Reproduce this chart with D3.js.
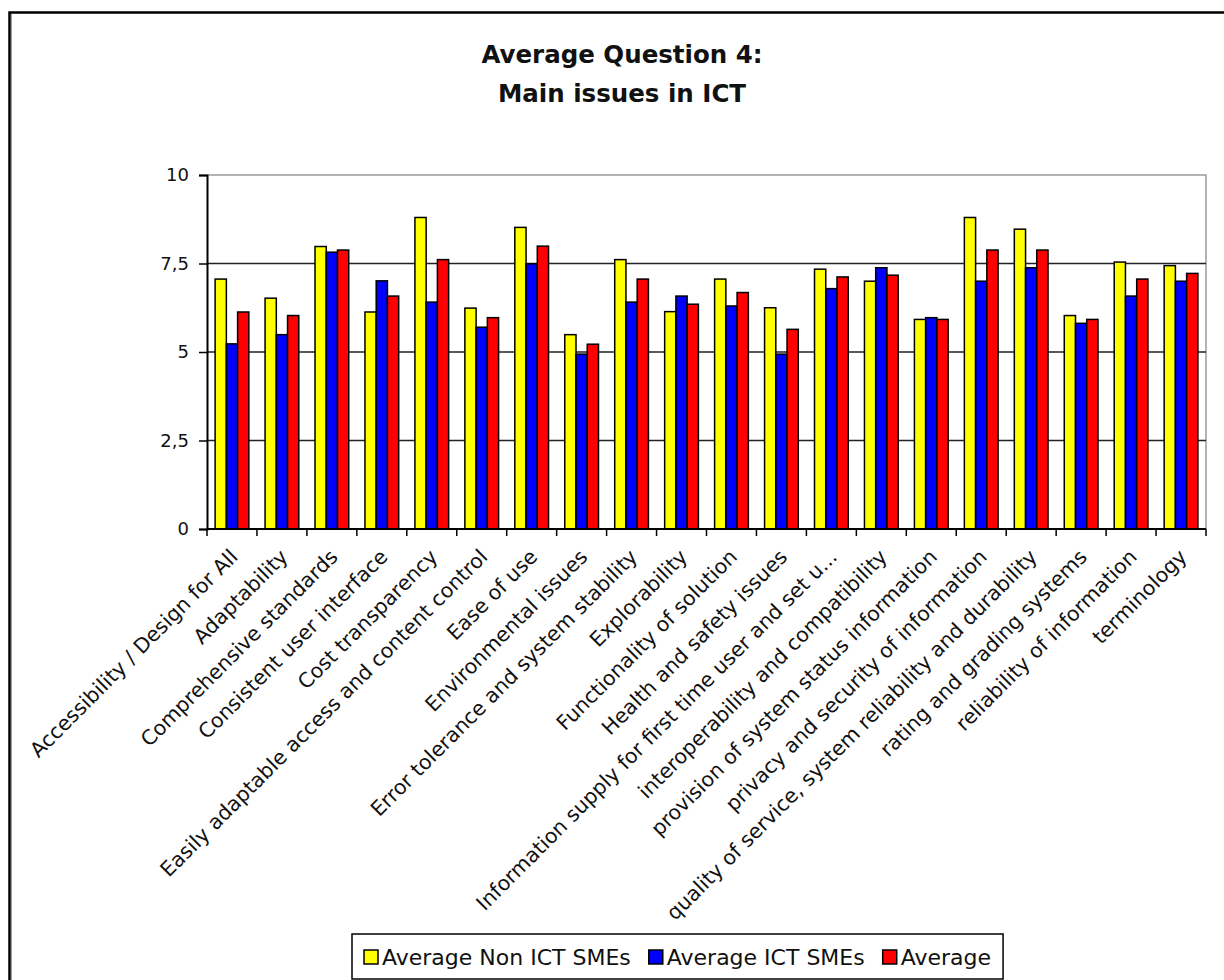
<!DOCTYPE html>
<html>
<head>
<meta charset="utf-8">
<script src="https://cdn.jsdelivr.net/npm/d3@7"></script>
<style>
  html, body { margin: 0; padding: 0; background: #fff; }
  svg { display: block; }
</style>
</head>
<body>
<svg id="chart" width="1224" height="980"></svg>
<script>
// Categories (issues) along the x axis
const categories = [
  "Accessibility / Design for All",
  "Adaptability",
  "Comprehensive standards",
  "Consistent user interface",
  "Cost transparency",
  "Easily adaptable access and content control",
  "Ease of use",
  "Environmental issues",
  "Error tolerance and system stability",
  "Explorability",
  "Functionality of solution",
  "Health and safety issues",
  "Information supply for first time user and set u...",
  "interoperability and compatibility",
  "provision of system status information",
  "privacy and security of information",
  "quality of service, system reliability and durability",
  "rating and grading systems",
  "reliability of information",
  "terminology"
];

// Series values
const nonIctSMEs = [7.06, 6.52, 7.98, 6.13, 8.80, 6.24, 8.52, 5.49, 7.61, 6.14, 7.06, 6.25, 7.34, 7.00, 5.92, 8.80, 8.47, 6.03, 7.54, 7.44];
const ictSMEs    = [5.23, 5.49, 7.82, 7.01, 6.41, 5.70, 7.49, 4.94, 6.41, 6.58, 6.30, 4.94, 6.79, 7.38, 5.97, 7.00, 7.38, 5.81, 6.58, 7.00];
const average    = [6.13, 6.03, 7.88, 6.58, 7.61, 5.97, 7.99, 5.22, 7.06, 6.35, 6.68, 5.64, 7.12, 7.17, 5.92, 7.88, 7.88, 5.92, 7.06, 7.22];

const seriesNames  = ["Average Non ICT SMEs", "Average ICT SMEs", "Average"];
const seriesColors = ["#ffff00", "#0000ff", "#ff0000"];
const yTicks = [0, 2.5, 5, 7.5, 10];
const titleLines = ["Average Question 4:", "Main issues in ICT"];

const seriesValues = [nonIctSMEs, ictSMEs, average];

const svg = d3.select("#chart");
const plot = { left: 207, right: 1206, top: 175, bottom: 529 };
const fontFamily = "'DejaVu Sans', Verdana, sans-serif";

// Outer chart frame (only top and left edges fall inside the page)
svg.append("path")
  .attr("d", "M9.5,980 V12.5 H1224")
  .attr("fill", "none").attr("stroke", "#000").attr("stroke-width", 2.5);
svg.append("line")
  .attr("x1", 11.5).attr("x2", 11.5).attr("y1", 14).attr("y2", 980)
  .attr("stroke", "#9a9a9a").attr("stroke-width", 1);

// Title
svg.append("g").selectAll("text").data(titleLines).join("text")
  .attr("x", 622)
  .attr("y", (d, i) => 63 + i * 39)
  .attr("text-anchor", "middle")
  .style("font-family", fontFamily)
  .style("font-weight", "bold")
  .style("font-size", "24.5px")
  .attr("fill", "#111")
  .text(d => d);

// Scales
const x0 = d3.scaleBand().domain(categories).range([plot.left, plot.right]).paddingInner(0).paddingOuter(0);
const barW = x0.bandwidth() * 0.225;
const groupOffset = (x0.bandwidth() - 3 * barW) / 2;
const x1 = d3.scaleBand().domain(d3.range(seriesNames.length))
  .range([groupOffset, groupOffset + 3 * barW]).padding(0);
const y = d3.scaleLinear().domain([0, 10]).range([plot.bottom, plot.top]);

// Plot-area border (top and right edges, grey)
svg.append("path")
  .attr("d", `M${plot.left},${y(10)} H${plot.right} V${plot.bottom}`)
  .attr("fill", "none").attr("stroke", "#9a9a9a").attr("stroke-width", 1.5);

// Horizontal gridlines
svg.append("g").selectAll("line").data(yTicks.filter(t => t > 0 && t < 10)).join("line")
  .attr("x1", plot.left).attr("x2", plot.right)
  .attr("y1", d => y(d)).attr("y2", d => y(d))
  .attr("stroke", "#222").attr("stroke-width", 1.5);

// Bars
const groups = svg.append("g").selectAll("g").data(categories).join("g")
  .attr("transform", d => `translate(${x0(d)},0)`);
groups.selectAll("rect")
  .data((d, ci) => seriesValues.map((vals, si) => ({ si, v: vals[ci] })))
  .join("rect")
  .attr("x", d => x1(d.si))
  .attr("width", x1.bandwidth())
  .attr("y", d => y(d.v))
  .attr("height", d => y(0) - y(d.v))
  .attr("fill", d => seriesColors[d.si])
  .attr("stroke", "#000").attr("stroke-width", 1.5);

// Y axis
const yAxis = d3.axisLeft(y).tickValues(yTicks).tickSize(8).tickPadding(10)
  .tickFormat(d => String(d).replace(".", ","));
const yg = svg.append("g").attr("transform", `translate(${plot.left},0)`).call(yAxis);
yg.select(".domain").attr("stroke", "#000").attr("stroke-width", 2);
yg.selectAll(".tick line").attr("stroke", "#000").attr("stroke-width", 1.5);
yg.selectAll(".tick text")
  .style("font-family", fontFamily)
  .style("font-size", "18px").attr("fill", "#111");

// X axis line and boundary ticks
svg.append("line")
  .attr("x1", plot.left).attr("x2", plot.right)
  .attr("y1", plot.bottom).attr("y2", plot.bottom)
  .attr("stroke", "#000").attr("stroke-width", 2);
const boundaries = categories.map(c => x0(c)).concat([plot.right]);
svg.append("g").selectAll("line").data(boundaries).join("line")
  .attr("x1", d => d).attr("x2", d => d)
  .attr("y1", plot.bottom).attr("y2", plot.bottom + 7)
  .attr("stroke", "#000").attr("stroke-width", 1.5);

// Rotated category labels
svg.append("g").selectAll("text").data(categories).join("text")
  .attr("transform", d => `translate(${x0(d) + x0.bandwidth() / 2 + 2},${plot.bottom + 24}) rotate(-45)`)
  .attr("text-anchor", "end")
  .attr("dy", "0.35em")
  .style("font-family", fontFamily)
  .style("font-size", "20.5px")
  .attr("fill", "#111")
  .text(d => d);

// Legend
const legend = svg.append("g");
const legendTop = 934, legendBottom = 979, legendLeft = 352;
const box = legend.append("rect")
  .attr("x", legendLeft).attr("y", legendTop)
  .attr("height", legendBottom - legendTop)
  .attr("fill", "#fff").attr("stroke", "#000").attr("stroke-width", 1.5);
let cursor = legendLeft + 12;
seriesNames.forEach((name, i) => {
  legend.append("rect")
    .attr("x", cursor).attr("y", 950)
    .attr("width", 14).attr("height", 14)
    .attr("fill", seriesColors[i]).attr("stroke", "#000").attr("stroke-width", 1.5);
  const t = legend.append("text")
    .attr("x", cursor + 18).attr("y", 965)
    .style("font-family", fontFamily)
    .style("font-size", "22px")
    .attr("fill", "#111")
    .text(name);
  cursor += 18 + t.node().getComputedTextLength() + 18;
});
box.attr("width", cursor - 6 - legendLeft);
</script>
</body>
</html>
